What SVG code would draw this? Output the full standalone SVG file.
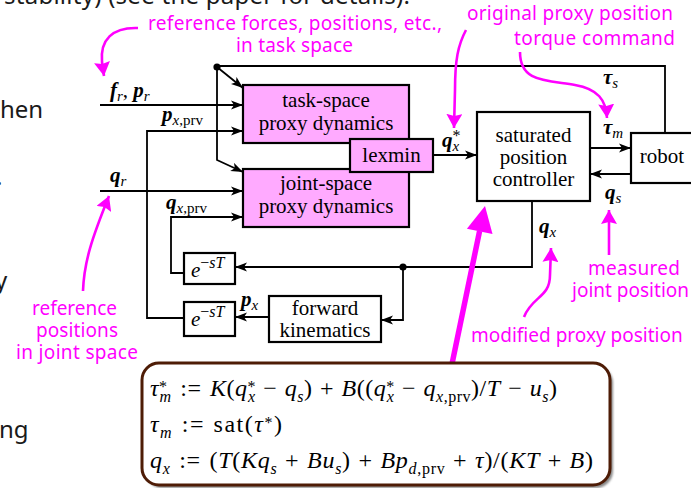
<svg xmlns="http://www.w3.org/2000/svg" width="691" height="488" viewBox="0 0 691 488">
<style>
.bg{font-family:"Noto Sans","Open Sans",sans-serif;font-size:24px;fill:#1a1a1a}
.an{font-family:"Noto Sans","Open Sans",sans-serif;font-size:19px;fill:#ff00ff}
.bt{font-family:"Liberation Serif",serif;font-size:21px;fill:#000;text-anchor:middle}
.m{font-family:"Liberation Serif",serif;font-size:21px;fill:#000}
.bv{font-weight:bold;font-style:italic}
.s{font-size:15px;font-style:italic;font-weight:normal}
.u{font-style:normal}
.f{font-family:"Liberation Serif",serif;font-size:24px;fill:#000}
.i{font-style:italic}
.ss{font-size:16px}
.box{fill:#fff;stroke:#000;stroke-width:2.2}
.pk{fill:#ffaaff;stroke:#000;stroke-width:2.2}
.mg{fill:none;stroke:#ff00ff;stroke-width:2.6}
</style>
<defs>
<marker id="ah" viewBox="0 0 12 10" refX="12" refY="5" markerWidth="12" markerHeight="10" markerUnits="userSpaceOnUse" orient="auto"><path d="M0,0.5 L12,5 L0,9.5 L3,5 z" fill="#000"/></marker>
<marker id="mh" viewBox="0 0 14 16" refX="14" refY="8" markerWidth="14" markerHeight="16" markerUnits="userSpaceOnUse" orient="auto"><path d="M0,0 L14,8 L0,16 L2,8 z" fill="#ff00ff"/></marker>
<filter id="sh" x="-5%" y="-5%" width="115%" height="120%"><feGaussianBlur stdDeviation="1"/></filter>
</defs>
<rect width="691" height="488" fill="#fff"/>

<g id="background-text">
<text class="bg" x="4" y="4" textLength="406">stability) (see the paper for details).</text>
<text class="bg" x="0" y="118">hen</text>
<text class="bg" x="-4" y="185">.</text>
<text class="bg" x="-5" y="289">y</text>
<text class="bg" x="-1" y="438">ng</text>
</g>

<g id="connectors" fill="none" stroke="#000" stroke-width="1.8">
<path d="M665,133 V66 H217"/>
<path d="M217,67 L243,88" marker-end="url(#ah)"/>
<path d="M217,67 V160 L243,172" marker-end="url(#ah)"/>
<path d="M100,105 H243" marker-end="url(#ah)"/>
<path d="M184,318 H147 V131 H243" marker-end="url(#ah)"/>
<path d="M100,191 H243" marker-end="url(#ah)"/>
<path d="M184,273 H171 V217 H243" marker-end="url(#ah)"/>
<path d="M433,155 H477" marker-end="url(#ah)"/>
<path d="M590,148 H631" marker-end="url(#ah)"/>
<path d="M631,174 H590" marker-end="url(#ah)"/>
<path d="M532,201 V267 H235" marker-end="url(#ah)"/>
<path d="M403,267 V320 H381" marker-end="url(#ah)"/>
<path d="M269,317 H235" marker-end="url(#ah)"/>
<circle cx="217" cy="67" r="3.6" fill="#000" stroke="none"/>
<circle cx="403" cy="267" r="3.6" fill="#000" stroke="none"/>
</g>

<g id="task-space">
<rect class="pk" x="243" y="85" width="166" height="58"/>
<text class="bt" x="326" y="107">task-space</text>
<text class="bt" x="326" y="130">proxy dynamics</text>
</g>
<g id="joint-space">
<rect class="pk" x="243" y="169" width="166" height="58"/>
<text class="bt" x="326" y="190">joint-space</text>
<text class="bt" x="326" y="213">proxy dynamics</text>
</g>
<g id="lexmin">
<rect class="pk" x="350" y="139" width="83" height="33"/>
<text class="bt" x="391.5" y="162">lexmin</text>
</g>
<g id="controller">
<rect class="box" x="477" y="112" width="113" height="89"/>
<text class="bt" x="533.5" y="142">saturated</text>
<text class="bt" x="533.5" y="164">position</text>
<text class="bt" x="533.5" y="186">controller</text>
</g>
<g id="robot">
<rect class="box" x="631" y="133" width="75" height="50"/>
<text class="bt" x="662" y="163">robot</text>
</g>
<g id="delay1">
<rect class="box" x="184" y="253" width="51" height="31"/>
<text class="m" x="191" y="277" font-size="24"><tspan class="i">e</tspan><tspan font-size="16" dy="-9">−<tspan class="i">sT</tspan></tspan></text>
</g>
<g id="delay2">
<rect class="box" x="184" y="302" width="51" height="34"/>
<text class="m" x="191" y="326" font-size="24"><tspan class="i">e</tspan><tspan font-size="16" dy="-9">−<tspan class="i">sT</tspan></tspan></text>
</g>
<g id="forward-kinematics">
<rect class="box" x="269" y="296" width="112" height="46"/>
<text class="bt" x="325" y="315">forward</text>
<text class="bt" x="325" y="337">kinematics</text>
</g>

<g id="signal-labels">
<text class="m" x="110" y="97"><tspan class="bv">f</tspan><tspan class="s" dy="4">r</tspan><tspan dy="-4">, </tspan><tspan class="bv">p</tspan><tspan class="s" dy="4">r</tspan></text>
<text class="m" x="162" y="121"><tspan class="bv">p</tspan><tspan class="s" dy="4">x<tspan class="u">,prv</tspan></tspan></text>
<text class="m" x="110" y="182"><tspan class="bv">q</tspan><tspan class="s" dy="4">r</tspan></text>
<text class="m" x="166" y="209"><tspan class="bv">q</tspan><tspan class="s" dy="4">x<tspan class="u">,prv</tspan></tspan></text>
<text class="m" x="241" y="306"><tspan class="bv">p</tspan><tspan class="s" dy="4">x</tspan></text>
<text class="m" x="442" y="147"><tspan class="bv">q</tspan><tspan class="ss" dy="-6">*</tspan><tspan class="s" dx="-8" dy="10">x</tspan></text>
<text class="m" x="603" y="134"><tspan class="bv">τ</tspan><tspan class="s" dy="4">m</tspan></text>
<text class="m" x="603" y="84"><tspan class="bv">τ</tspan><tspan class="s" dy="4">s</tspan></text>
<text class="m" x="605" y="199"><tspan class="bv">q</tspan><tspan class="s" dy="4">s</tspan></text>
<text class="m" x="539" y="233"><tspan class="bv">q</tspan><tspan class="s" dy="4">x</tspan></text>
</g>

<g id="annotations">
<text class="an" x="148" y="30" textLength="294">reference forces, positions, etc.,</text>
<text class="an" x="236" y="52" textLength="117">in task space</text>
<path class="mg" d="M138,28 C112,27 100,40 102,62 L104,76" marker-end="url(#mh)"/>
<text class="an" x="467" y="20" textLength="206">original proxy position</text>
<path class="mg" d="M466,30 C458,45 455,60 455,90 L454,128" marker-end="url(#mh)"/>
<text class="an" x="514" y="45" textLength="161">torque command</text>
<path class="mg" d="M520,52 C520,82 545,80 575,85 C598,89 606,100 607,118" marker-end="url(#mh)"/>
<text class="an" x="588" y="275" textLength="92">measured</text>
<text class="an" x="572" y="297">joint position</text>
<path class="mg" d="M609,255 V210" marker-end="url(#mh)"/>
<text class="an" x="471" y="342">modified proxy position</text>
<path class="mg" d="M524,317 C532,296 550,298 550,275 L551,248" marker-end="url(#mh)"/>
<text class="an" x="32" y="315" textLength="85">reference</text>
<text class="an" x="36" y="337" textLength="82">positions</text>
<text class="an" x="16" y="359" textLength="122">in joint space</text>
<path class="mg" d="M83,291 C84,262 92,238 109,196" marker-end="url(#mh)"/>
<path d="M452,364 L479.6,231" stroke="#ff00ff" stroke-width="5.5" fill="none"/>
<polygon points="485,206 492.5,234 466.9,228.7" fill="#ff00ff"/>
</g>

<g id="formula-box">
<rect x="145" y="366" width="468" height="122" rx="17" fill="#888" filter="url(#sh)"/>
<rect x="142" y="363" width="468" height="122" rx="17" fill="#fff" stroke="#4e1c06" stroke-width="3"/>
<text class="f" x="150" y="396" textLength="407"><tspan class="i">τ</tspan><tspan class="ss" dy="-4">*</tspan><tspan class="ss i" dx="-8" dy="10">m</tspan><tspan dy="-6" dx="2"> := </tspan><tspan class="i" dx="2">K</tspan>(<tspan class="i">q</tspan><tspan class="ss" dy="-4">*</tspan><tspan class="ss i" dx="-8" dy="10">x</tspan><tspan dy="-6" dx="1"> − </tspan><tspan class="i" dx="1">q</tspan><tspan class="ss i" dy="6">s</tspan><tspan dy="-6">)</tspan><tspan dx="1"> + </tspan><tspan class="i" dx="1">B</tspan>((<tspan class="i">q</tspan><tspan class="ss" dy="-4">*</tspan><tspan class="ss i" dx="-8" dy="10">x</tspan><tspan dy="-6" dx="1"> − </tspan><tspan class="i" dx="1">q</tspan><tspan class="ss" dy="6"><tspan class="i">x</tspan>,prv</tspan><tspan dy="-6">)/</tspan><tspan class="i">T</tspan><tspan dx="1"> − </tspan><tspan class="i" dx="1">u</tspan><tspan class="ss i" dy="6">s</tspan><tspan dy="-6">)</tspan></text>
<text class="f" x="150" y="432" textLength="132"><tspan class="i">τ</tspan><tspan class="ss i" dy="6">m</tspan><tspan dy="-6" dx="1"> := </tspan><tspan dx="1">sat(</tspan><tspan class="i">τ</tspan><tspan class="ss" dy="-4">*</tspan><tspan dy="4">)</tspan></text>
<text class="f" x="150" y="468" textLength="443"><tspan class="i">q</tspan><tspan class="ss i" dy="6">x</tspan><tspan dy="-6" dx="2"> := </tspan><tspan dx="2">(</tspan><tspan class="i">T</tspan>(<tspan class="i">Kq</tspan><tspan class="ss i" dy="6">s</tspan><tspan dy="-6" dx="1"> + </tspan><tspan class="i" dx="1">Bu</tspan><tspan class="ss i" dy="6">s</tspan><tspan dy="-6">)</tspan><tspan dx="1"> + </tspan><tspan class="i" dx="1">Bp</tspan><tspan class="ss" dy="6"><tspan class="i">d</tspan>,prv</tspan><tspan dy="-6" dx="1"> + </tspan><tspan class="i" dx="1">τ</tspan>)/(<tspan class="i">KT</tspan><tspan dx="1"> + </tspan><tspan class="i" dx="1">B</tspan>)</text>
</g>
</svg>
